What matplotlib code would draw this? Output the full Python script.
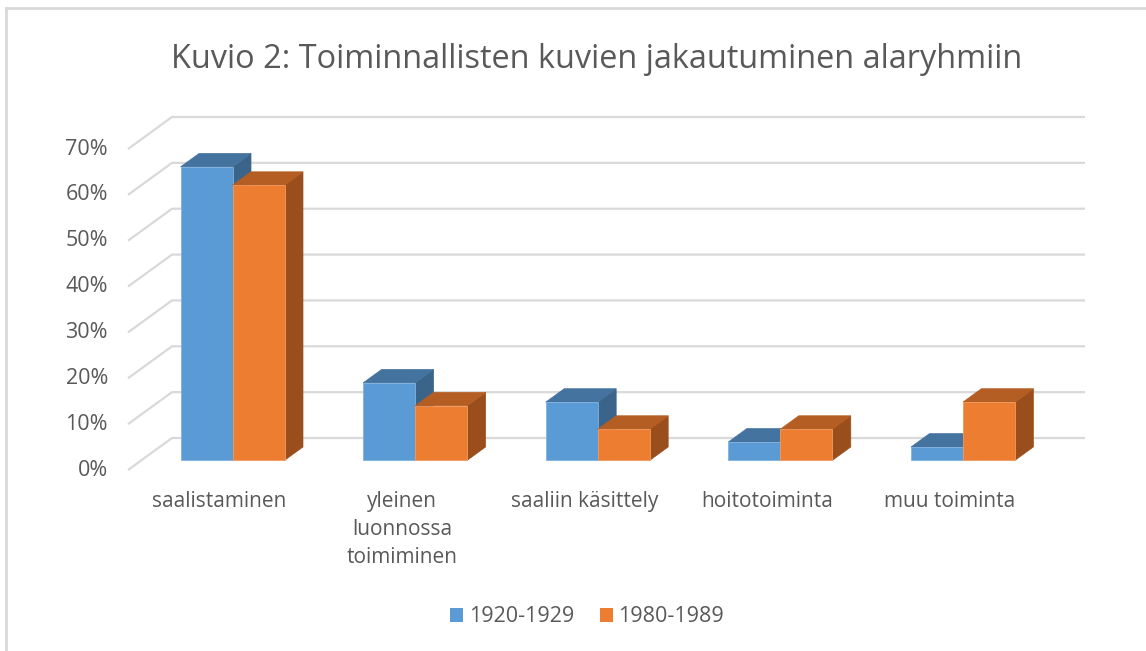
import matplotlib
matplotlib.use("Agg")
import matplotlib.pyplot as plt
from matplotlib.patches import Polygon, Patch
from matplotlib.lines import Line2D

# ---- data ----
categories = ["saalistaminen", "yleinen\nluonnossa\ntoimiminen", "saaliin käsittely",
              "hoitotoiminta", "muu toiminta"]
series_names = ["1920-1929", "1980-1989"]
values_1920 = [64.0, 16.9, 12.7, 4.0, 2.9]
values_1980 = [60.0, 11.9, 6.8, 6.8, 12.7]
yticks = [0, 10, 20, 30, 40, 50, 60, 70]
title = "Kuvio 2: Toiminnallisten kuvien jakautuminen alaryhmiin"

# ---- style ----
FONT = "Open Sans"
TXT = "#595959"
GRID = "#D9D9D9"
front_cols = ["#5B9BD5", "#ED7D31"]
top_cols = ["#44739F", "#B55E23"]
side_cols = ["#3A6489", "#9A4E1C"]
edge_cols = ["#7FB2E0", "#F29A5E"]

W, H = 1146, 651
fig = plt.figure(figsize=(W / 100, H / 100), dpi=100)
ax = fig.add_axes([0, 0, 1, 1])
ax.set_axis_off()

# pixel geometry -> data limits
x_front0, x_front5 = 128.0, 1041.0
y_zero, y_70 = 470.0, 149.0
pxc = (x_front5 - x_front0) / len(categories)
pxp = (y_zero - y_70) / 70.0
ax.set_xlim(-x_front0 / pxc, (W - x_front0) / pxc)
ax.set_ylim(-(H - y_zero) / pxp, y_zero / pxp)

ddx = 44.0 / pxc     # depth vector (data units)
ddy = 32.0 / pxp
f0, f1 = 0.30, 0.72  # bar depth range (fraction)
bw = 52.0 / pxc      # bar width
n = len(categories)

# gridlines (left wall + back wall)
for v in yticks:
    ax.plot([0, ddx, n + ddx], [v, v + ddy, v + ddy], color=GRID, lw=1.6,
            zorder=1, solid_capstyle="butt")
    ax.text(-20.0 / pxc, v, f"{v}%", ha="right", va="center", fontsize=15.5,
            color=TXT, family=FONT)

def draw_bar(x0, x1, v, s):
    ox0, oy0 = f0 * ddx, f0 * ddy
    ox1, oy1 = f1 * ddx, f1 * ddy
    front = [(x0 + ox0, oy0), (x1 + ox0, oy0), (x1 + ox0, oy0 + v), (x0 + ox0, oy0 + v)]
    top = [(x0 + ox0, oy0 + v), (x1 + ox0, oy0 + v), (x1 + ox1, oy1 + v), (x0 + ox1, oy1 + v)]
    side = [(x1 + ox0, oy0), (x1 + ox1, oy1), (x1 + ox1, oy1 + v), (x1 + ox0, oy0 + v)]
    ax.add_patch(Polygon(side, closed=True, facecolor=side_cols[s], edgecolor=side_cols[s],
                         lw=0.5, zorder=3))
    ax.add_patch(Polygon(top, closed=True, facecolor=top_cols[s], edgecolor=top_cols[s],
                         lw=0.5, zorder=3))
    ax.add_patch(Polygon(front, closed=True, facecolor=front_cols[s], edgecolor=edge_cols[s],
                         lw=0.6, zorder=3))

for i in range(n):
    c = i + 0.5
    draw_bar(c - bw, c, values_1920[i], 0)
    draw_bar(c, c + bw, values_1980[i], 1)
    ax.text(c, -(491 - y_zero) / pxp, categories[i], ha="center", va="top",
            fontsize=15, color=TXT, family=FONT, linespacing=1.45)

# title
fig.text(597 / W, 1 - 60 / H, title, ha="center", va="center", fontsize=23.4,
         color=TXT, family=FONT)

# legend
handles = [Patch(facecolor=front_cols[0], edgecolor="none"),
           Patch(facecolor=front_cols[1], edgecolor="none")]
leg = fig.legend(handles, series_names, loc="center", bbox_to_anchor=(587 / W, 1 - 617 / H),
                 ncol=2, frameon=False, handlelength=0.62, handleheight=0.62,
                 handletextpad=0.25, columnspacing=1.2, prop={"family": FONT, "size": 15.5})
for t in leg.get_texts():
    t.set_color(TXT)

# chart border (left and top visible)
fig.add_artist(Line2D([6 / W, 6 / W], [0, 1 - 8 / H], color=GRID, lw=2, transform=fig.transFigure))
fig.add_artist(Line2D([6 / W, 1], [1 - 8 / H, 1 - 8 / H], color=GRID, lw=2, transform=fig.transFigure))

fig.savefig("out.png", dpi=100, facecolor="white")
